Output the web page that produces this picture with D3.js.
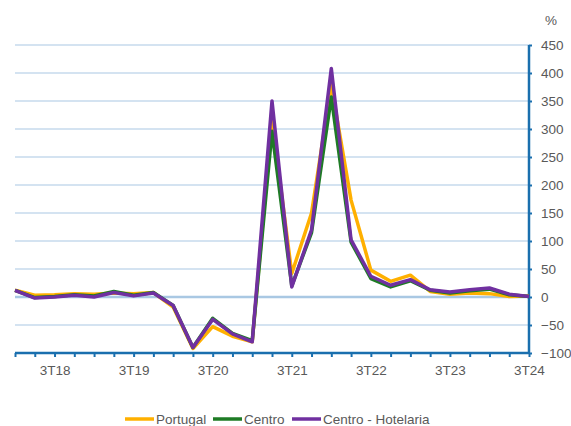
<!DOCTYPE html>
<html>
<head>
<meta charset="utf-8">
<script src="https://cdn.jsdelivr.net/npm/d3@7"></script>
<style>
body { margin: 0; background: #fff; }
svg { font-family: "Liberation Sans", Arial, sans-serif; }
</style>
</head>
<body>
<svg id="chart" width="571" height="426"></svg>
<script>
// trimestres 1T18 .. 3T24
var quarters = [];
for (var yr = 18; yr <= 24; ++yr) {
	for (var q = 1; q <= 4; ++q) {
		if (yr === 24 && q > 3) break;
		quarters.push(q + "T" + yr);
	}
}

var portugal  = [12, 3, 4, 6, 5, 7, 6, 8, -18, -92, -53, -70, -80, 318, 42, 150, 378, 173, 48, 28, 39, 10, 5, 7, 6, 1, 2];
var centro    = [12, -1, 1, 4, 2, 10, 3, 8, -15, -90, -38, -65, -78, 296, 20, 115, 357, 98, 33, 18, 29, 12, 7, 11, 14, 4, 1];
var hotelaria = [12, -2, 0, 3, 0, 8, 2, 7, -15, -90, -40, -66, -80, 350, 18, 120, 408, 102, 37, 21, 31, 13, 9, 13, 16, 5, 1];

var yTicks = [-100, -50, 0, 50, 100, 150, 200, 250, 300, 350, 400, 450];

var series = [
	{ name: "Portugal", values: portugal, color: "#ffb000" },
	{ name: "Centro", values: centro, color: "#1e7b25" },
	{ name: "Centro - Hotelaria", values: hotelaria, color: "#7030a0" }
];

var svg = d3.select("#chart");

var x = d3.scalePoint().domain(quarters).range([15, 529]);
var y = d3.scaleLinear().domain([-100, 450]).range([353, 45]);

// grelha
svg.append("g").selectAll("line")
	.data(yTicks.filter(function (d) { return d !== -100; }))
	.enter().append("line")
	.attr("x1", 15).attr("x2", 529)
	.attr("y1", function (d) { return y(d); })
	.attr("y2", function (d) { return y(d); })
	.attr("stroke", "#a9c8e3")
	.attr("stroke-width", function (d) { return d === 0 ? 2.5 : 1.2; });

// eixo x
var xAxis = d3.axisBottom(x)
	.tickSize(4)
	.tickFormat(function (d, i) { return (i % 4 === 2) ? d : ""; });

var gx = svg.append("g")
	.attr("transform", "translate(0," + y(-100) + ")")
	.call(xAxis);
gx.select(".domain").attr("stroke", "#1a6fae").attr("stroke-width", 2.5).attr("d", "M15,0H529");
gx.selectAll(".tick line").attr("stroke", "#1a6fae").attr("stroke-width", 2);
gx.selectAll(".tick text")
	.attr("fill", "#595959").attr("font-size", "13.5px").attr("dy", "1.1em");

// eixo y (direita)
var yAxis = d3.axisRight(y).tickValues(yTicks).tickSize(3).tickPadding(9);
var gy = svg.append("g")
	.attr("transform", "translate(529,0)")
	.call(yAxis);
gy.select(".domain").attr("stroke", "#1a6fae").attr("stroke-width", 2.5).attr("d", "M0,45V353");
gy.selectAll(".tick line").attr("stroke", "#1a6fae").attr("stroke-width", 2);
gy.selectAll(".tick text").attr("fill", "#595959").attr("font-size", "13.5px");

svg.append("text")
	.attr("x", 545).attr("y", 25)
	.attr("fill", "#595959").attr("font-size", "13.5px")
	.text("%");

// linhas
var line = d3.line()
	.x(function (d, i) { return x(quarters[i]); })
	.y(function (d) { return y(d); });

svg.append("g").selectAll("path")
	.data(series)
	.enter().append("path")
	.attr("d", function (s) { return line(s.values); })
	.attr("fill", "none")
	.attr("stroke", function (s) { return s.color; })
	.attr("stroke-width", 3.5)
	.attr("stroke-linejoin", "round");

// legenda
var legendX = [125, 213, 292];
var leg = svg.append("g").selectAll("g")
	.data(series)
	.enter().append("g")
	.attr("transform", function (s, i) { return "translate(" + legendX[i] + ",419)"; });
leg.append("line")
	.attr("x1", 0).attr("x2", 29).attr("y1", 0).attr("y2", 0)
	.attr("stroke", function (s) { return s.color; })
	.attr("stroke-width", 3.5);
leg.append("text")
	.attr("x", 31).attr("y", 5)
	.attr("fill", "#595959").attr("font-size", "13.5px")
	.text(function (s) { return s.name; });
</script>
</body>
</html>
